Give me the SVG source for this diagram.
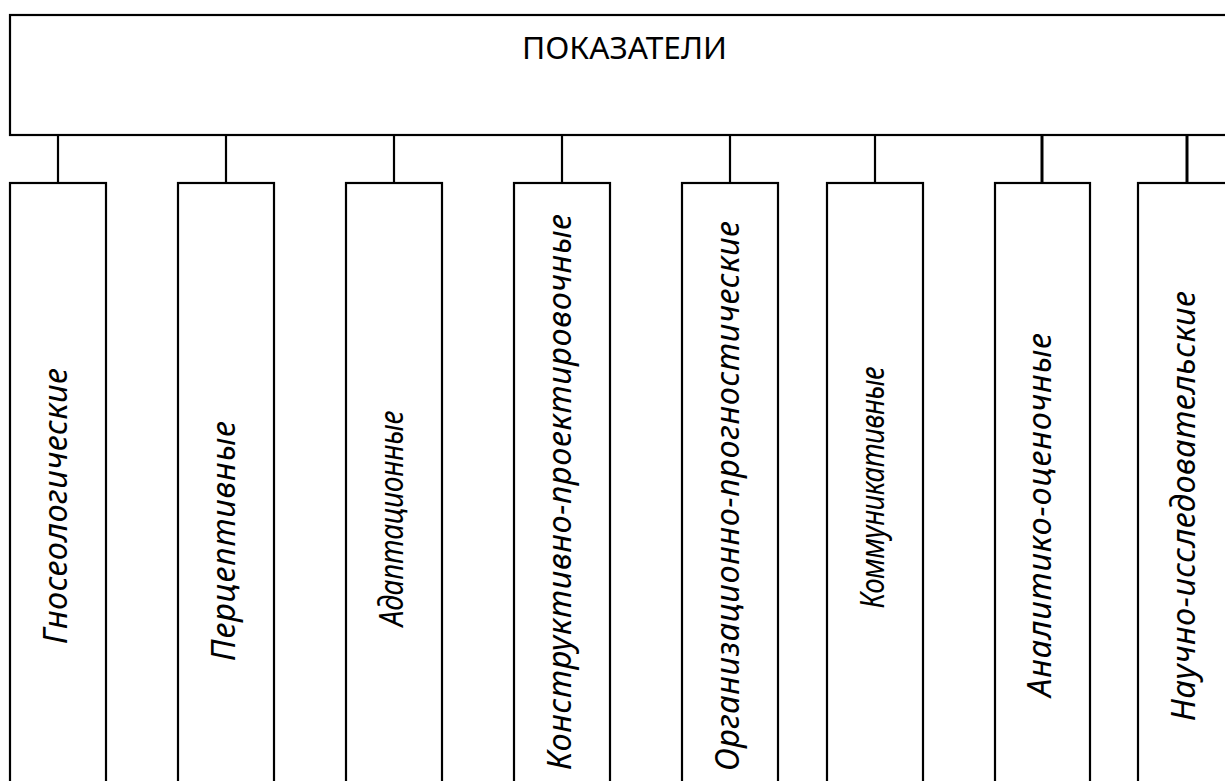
<svg xmlns="http://www.w3.org/2000/svg" width="1225" height="781" viewBox="0 0 1225 781">
<style>
.box{fill:#fff;stroke:#000;stroke-width:2.2}
.ln{stroke:#000;stroke-width:2.2;fill:none}
.lb{font-family:"Noto Sans","Open Sans",sans-serif;font-style:italic;font-size:32.5px;fill:#000}
.tt{font-family:"Noto Sans","Open Sans",sans-serif;font-size:30px;fill:#000}
</style>
<rect width="1225" height="781" fill="#fff"/>
<g id="connectors">
<line class="ln" x1="58" y1="135" x2="58" y2="183"/>
<line class="ln" x1="226" y1="135" x2="226" y2="183"/>
<line class="ln" x1="394" y1="135" x2="394" y2="183"/>
<line class="ln" x1="562" y1="135" x2="562" y2="183"/>
<line class="ln" x1="730" y1="135" x2="730" y2="183"/>
<line class="ln" x1="875" y1="135" x2="875" y2="183"/>
<line class="ln" x1="1042" y1="135" x2="1042" y2="183" style="stroke-width:3"/>
<line class="ln" x1="1187" y1="135" x2="1187" y2="183" style="stroke-width:3"/>
</g>
<g id="root">
<rect class="box" x="10" y="15" width="1240" height="120"/>
<text class="tt" x="624.5" y="59" text-anchor="middle" textLength="205" lengthAdjust="spacingAndGlyphs">ПОКАЗАТЕЛИ</text>
</g>
<g id="n1">
<rect class="box" x="10" y="183" width="96" height="620"/>
<text class="lb" transform="translate(67,506) rotate(-90)" text-anchor="middle" textLength="276">Гносеологические</text>
</g>
<g id="n2">
<rect class="box" x="178" y="183" width="96" height="620"/>
<text class="lb" transform="translate(235,541) rotate(-90)" text-anchor="middle" textLength="240">Перцептивные</text>
</g>
<g id="n3">
<rect class="box" x="346" y="183" width="96" height="620"/>
<text class="lb" transform="translate(403,518.5) rotate(-90) scale(0.87,1)" text-anchor="middle" textLength="248">Адаптационные</text>
</g>
<g id="n4">
<rect class="box" x="514" y="183" width="96" height="620"/>
<text class="lb" transform="translate(571,492) rotate(-90)" text-anchor="middle" textLength="556">Конструктивно-проектировочные</text>
</g>
<g id="n5">
<rect class="box" x="682" y="183" width="96" height="620"/>
<text class="lb" transform="translate(739,496) rotate(-90)" text-anchor="middle" textLength="550">Организационно-прогностические</text>
</g>
<g id="n6">
<rect class="box" x="827" y="183" width="96" height="620"/>
<text class="lb" transform="translate(884,487.5) rotate(-90) scale(0.85,1)" text-anchor="middle" textLength="285">Коммуникативные</text>
</g>
<g id="n7">
<rect class="box" x="995" y="183" width="95" height="620"/>
<text class="lb" transform="translate(1051,515) rotate(-90)" text-anchor="middle" textLength="364">Аналитико-оценочные</text>
</g>
<g id="n8">
<rect class="box" x="1138" y="183" width="110" height="620"/>
<text class="lb" transform="translate(1195,506) rotate(-90)" text-anchor="middle" textLength="430">Научно-исследовательские</text>
</g>
</svg>
